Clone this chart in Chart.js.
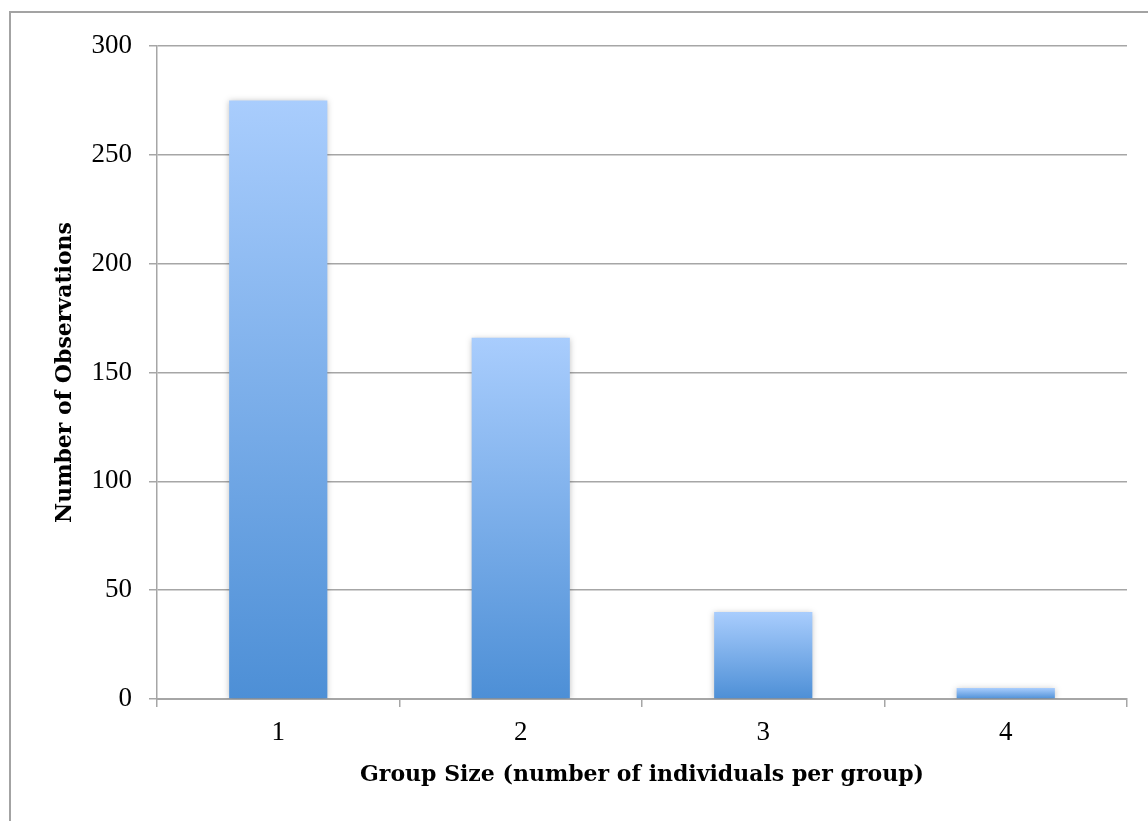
<!DOCTYPE html>
<html>
<head>
<meta charset="utf-8">
<script src="https://cdn.jsdelivr.net/npm/chart.js@4.4.1/dist/chart.umd.min.js"></script>
<style>
  html, body { margin: 0; padding: 0; background: #fff; }
  .frame { position: absolute; left: 9px; top: 11px; width: 1200px; height: 900px; border: 2px solid #a3a3a3; }
  .wrap { position: absolute; left: 0; top: 0; width: 1148px; height: 821px; }
</style>
</head>
<body>
<div class="frame"></div>
<div class="wrap"><canvas id="groupChart" width="1148" height="821"></canvas></div>
<script>
// chart data
const groupSizes = ['1', '2', '3', '4']
const observations = [275, 166, 40, 5]
const yTicks = [0, 50, 100, 150, 200, 250, 300]

const axisColor = '#a6a6a6'
const tickFont = '"Liberation Serif", "DejaVu Serif", serif'
const titleFont = '"DejaVu Serif", "Liberation Serif", serif'

// each bar gets its own light-to-dark vertical gradient
const barGradient = (context) => {
  const { chart, dataIndex } = context
  const { ctx, chartArea, scales } = chart
  if (!chartArea) return '#7aaee8'
  const top = scales.y.getPixelForValue(observations[dataIndex])
  const bottom = scales.y.getPixelForValue(0)
  const g = ctx.createLinearGradient(0, top, 0, bottom)
  g.addColorStop(0, '#a9cdfd')
  g.addColorStop(1, '#4d8fd6')
  return g
}

// soft shadow behind bars
const barShadow = {
  id: 'barShadow',
  beforeDatasetsDraw(chart) {
    chart.ctx.save()
    chart.ctx.shadowColor = 'rgba(0, 0, 0, 0.25)'
    chart.ctx.shadowBlur = 6
    chart.ctx.shadowOffsetY = 1
  },
  afterDatasetsDraw(chart) {
    chart.ctx.restore()
  },
}

new Chart(document.getElementById('groupChart'), {
  type: 'bar',
  data: {
    labels: groupSizes,
    datasets: [
      {
        label: 'Observations',
        data: observations,
        backgroundColor: barGradient,
        borderWidth: 0,
        categoryPercentage: 1,
        barPercentage: 0.405,
      },
    ],
  },
  options: {
    responsive: false,
    animation: false,
    layout: { padding: { left: 0, top: 46, right: 21, bottom: 0 } },
    plugins: {
      legend: { display: false },
      tooltip: { enabled: false },
    },
    scales: {
      x: {
        grid: { display: true, drawOnChartArea: false, offset: true, color: axisColor, lineWidth: 1.5, tickLength: 8 },
        border: { display: true, color: axisColor, width: 2 },
        ticks: { color: '#000', padding: 10, font: { family: tickFont, size: 27 } },
        title: {
          display: true,
          text: 'Group Size (number of individuals per group)',
          color: '#000',
          font: { family: titleFont, size: 22, weight: 'bold' },
          padding: { top: 0, bottom: 33 },
        },
        afterFit(scale) { scale.height = 122 },
      },
      y: {
        min: 0,
        max: 300,
        afterBuildTicks(scale) { scale.ticks = yTicks.map((v) => ({ value: v })) },
        grid: { color: axisColor, lineWidth: 1.5, tickLength: 8 },
        border: { display: true, color: axisColor, width: 1.5 },
        ticks: { color: '#000', padding: 17, font: { family: tickFont, size: 27 } },
        title: {
          display: true,
          text: 'Number of Observations',
          color: '#000',
          font: { family: titleFont, size: 22, weight: 'bold' },
          padding: { top: 52, bottom: 0 },
        },
        afterFit(scale) { scale.width = 157 },
      },
    },
  },
  plugins: [barShadow],
})
</script>
</body>
</html>
